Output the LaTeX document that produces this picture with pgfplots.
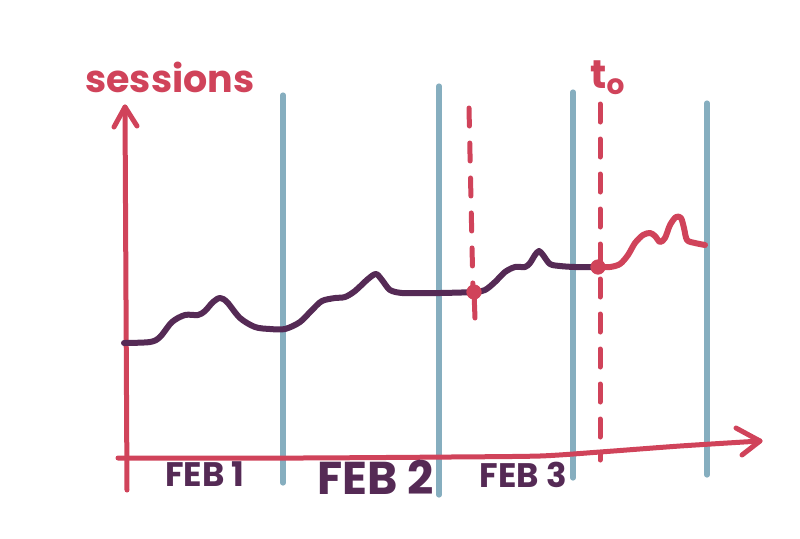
\documentclass[border=0pt]{standalone}
\usepackage{pgfplots}
\pgfplotsset{compat=1.18}
\usepackage{fontspec}
\setmainfont{Poppins}
\usetikzlibrary{arrows.meta}
\definecolor{skred}{RGB}{208,67,90}
\definecolor{skpurple}{RGB}{85,42,85}
\definecolor{skblue}{RGB}{134,174,191}
\begin{document}
\begin{tikzpicture}
\begin{axis}[
  width=400pt, height=269pt, scale only axis,
  xmin=0, xmax=800, ymin=0, ymax=538, y dir=reverse,
  hide axis, clip=false,
  line cap=round, line join=round,
]
% frame (invisible) for bounding box
\addplot[draw=none] coordinates {(0,0) (800,538)};
% blue vertical separators
\addplot[skblue, line width=2.6pt] coordinates {(283,95) (283,483)};
\addplot[skblue, line width=2.6pt] coordinates {(439,86) (439,495)};
\addplot[skblue, line width=2.6pt] coordinates {(573,92) (573,478)};
\addplot[skblue, line width=2.6pt] coordinates {(707,103) (707,475)};
% red dashed lines
\addplot[skred, line width=2.5pt, dash pattern=on 9pt off 8.5pt] coordinates {(469,108) (473,292)};
\addplot[skred, line width=2.5pt] coordinates {(474,292) (475,318)};
\addplot[skred, line width=2.5pt, dash pattern=on 9pt off 8.5pt] coordinates {(600,104) (600,460)};
% y axis
\addplot[skred, line width=2.5pt] coordinates {(127,490) (126,300) (125,107)};
\addplot[skred, line width=2.5pt] coordinates {(114,127) (125,107) (137,126)};
% x axis
\addplot[skred, line width=2.5pt, smooth, tension=0.4] coordinates {(118,458) (300,458) (450,457) (540,456) (600,452) (680,446) (760,441)};
\addplot[skred, line width=2.5pt] coordinates {(736,428) (760,441) (742,455)};
% session curve (purple part)
\addplot[skpurple, line width=3pt, smooth, tension=0.5] coordinates {
(124,343) (150,342) (160,337) (172,322) (185,315) (198,315) (205,311) (213,302) (220,298) (227,302) (240,318) (255,327) (270,329) (285,329) (300,322) (312,310) (322,301) (335,298) (345,297) (355,291) (368,279) (376,274) (382,280) (390,290) (402,293) (420,293) (440,293) (474,292) (485,290) (495,282) (505,272) (515,267) (525,267) (530,263) (535,255) (539,251) (543,255) (550,264) (560,266) (575,267) (597,267)};
% session curve (red part)
\addplot[skred, line width=3pt, smooth, tension=0.5] coordinates {
(597,267) (610,267) (620,264) (628,255) (635,243) (643,235) (650,233) (655,236) (660,242) (665,238) (670,225) (676,217) (681,218) (684,228) (687,240) (695,243) (705,245)};
% points
\addplot[only marks, mark=*, mark size=3.6pt, skred] coordinates {(474,292) (598,267)};
% labels
\node[skred, font=\fontsize{19}{19}\selectfont\bfseries] at (axis cs:170,77) {sessions};
\node[skred, font=\fontsize{20}{20}\selectfont\bfseries] at (axis cs:608,78) {t\textsubscript{o}};
\node[skpurple, font=\fontsize{17}{17}\selectfont\bfseries] at (axis cs:205,474) {FEB 1};
\node[skpurple, font=\fontsize{23}{23}\selectfont\bfseries] at (axis cs:376,477) {FEB 2};
\node[skpurple, font=\fontsize{17}{17}\selectfont\bfseries] at (axis cs:523,475) {FEB 3};
\end{axis}
\end{tikzpicture}
\end{document}
